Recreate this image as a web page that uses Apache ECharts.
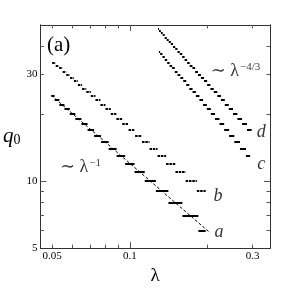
<!DOCTYPE html>
<html><head><meta charset="utf-8">
<script src="https://cdn.jsdelivr.net/npm/echarts@6/dist/echarts.min.js"></script>
<style>html,body{margin:0;padding:0;background:#fff}#c{width:291px;height:291px}</style>
</head><body><div id="c"></div>
<script>
// tick values and labels
const xMajorTicks = [0.1];
const xMinorTicks = [0.05, 0.06, 0.07, 0.08, 0.09, 0.2, 0.3];
const xLabels = [0.05, 0.1, 0.3];
const yMajorTicks = [10];
const yMinorTicks = [6, 7, 8, 9, 20, 30, 40];
const yLabels = [5, 10, 30];

// plateau series: first q0 value and lambda boundaries of each plateau (q0 decreases by 1 per plateau)
const aStartQ = 24;
const aBounds = [0.0496, 0.0511, 0.0533, 0.0558, 0.0585, 0.0615, 0.0649, 0.0686, 0.0727, 0.0774, 0.0828, 0.0889, 0.0960, 0.1043, 0.1143, 0.1263, 0.1412, 0.1600, 0.1846, 0.1970];
const bStartQ = 34;
const bBounds = [0.0500, 0.0516, 0.0532, 0.0549, 0.0567, 0.0586, 0.0607, 0.0629, 0.0653, 0.0678, 0.0706, 0.0736, 0.0769, 0.0805, 0.0844, 0.0887, 0.0935, 0.0989, 0.1049, 0.1116, 0.1193, 0.1282, 0.1384, 0.1504, 0.1648, 0.1821, 0.1970];
const cStartQ = 38;
const cBounds = [0.1298, 0.1312, 0.1339, 0.1367, 0.1397, 0.1428, 0.1460, 0.1495, 0.1532, 0.1571, 0.1612, 0.1656, 0.1702, 0.1752, 0.1805, 0.1863, 0.1925, 0.1991, 0.2063, 0.2142, 0.2229, 0.2324, 0.2429, 0.2545, 0.2676, 0.2823, 0.2930];
const dStartQ = 48;
const dBounds = [0.1287, 0.1298, 0.1320, 0.1342, 0.1366, 0.1391, 0.1416, 0.1443, 0.1471, 0.1501, 0.1531, 0.1563, 0.1597, 0.1632, 0.1669, 0.1708, 0.1750, 0.1793, 0.1839, 0.1888, 0.1940, 0.1996, 0.2055, 0.2118, 0.2186, 0.2258, 0.2337, 0.2422, 0.2515, 0.2616, 0.2727, 0.2849, 0.2970];

// guide line ~ lambda^-1
const guideX = [0.0496, 0.205];
const guideY = [24.2, 5.85];

// annotation positions (data coords)
const curveNames = ['a', 'b', 'c', 'd'];
const curveLabelX = [0.222, 0.220, 0.324, 0.324];
const curveLabelY = [5.87, 8.53, 11.9, 16.45];
const lawText = ['{m|∼ λ}{s|−1}', '{m|∼ λ}{s|−4/3}'];
const lawX = [0.0644, 0.257];
const lawY = [11.55, 31.1];

const SERIF = "'Liberation Serif', 'DejaVu Serif', serif";
const X_MIN = 0.045, X_MAX = 0.35, Y_MIN = 5, Y_MAX = 50;

function plateaus(q, bounds) {
  const out = [];
  for (let i = 0; i < bounds.length - 1; i++) {
    out.push({ coords: [[bounds[i], q - i], [bounds[i + 1], q - i]] });
  }
  return out;
}

function xAx(pos, ticks, len, labels, extra) {
  return Object.assign({
    type: 'log', logBase: 10, min: X_MIN, max: X_MAX, position: pos,
    axisLine: { show: true, onZero: false, lineStyle: { color: '#333', width: 1 } },
    axisTick: { show: true, inside: true, length: len, customValues: ticks, lineStyle: { color: '#555' } },
    axisLabel: labels ? { show: true, customValues: labels, fontFamily: SERIF, fontSize: 11, color: '#000', margin: 3,
      formatter: v => String(+(+v).toPrecision(3)) } : { show: false },
    splitLine: { show: false }, minorTick: { show: false }
  }, extra || {});
}
function yAx(pos, ticks, len, labels, extra) {
  return Object.assign({
    type: 'log', logBase: 10, min: Y_MIN, max: Y_MAX, position: pos,
    axisLine: { show: true, onZero: false, lineStyle: { color: '#333', width: 1 } },
    axisTick: { show: true, inside: true, length: len, customValues: ticks, lineStyle: { color: '#555' } },
    axisLabel: labels ? { show: true, customValues: labels, fontFamily: SERIF, fontSize: 11, color: '#000', margin: 3,
      formatter: v => String(Math.round(+v)) } : { show: false },
    splitLine: { show: false }, minorTick: { show: false }
  }, extra || {});
}

const chart = echarts.init(document.getElementById('c'), null, { renderer: 'canvas' });
chart.setOption({
  animation: false,
  backgroundColor: '#fff',
  title: { text: '(a)', left: 42, top: 30, textStyle: { fontFamily: SERIF, fontSize: 21, fontWeight: 'normal', color: '#000' } },
  grid: { left: 27, top: 25, right: 21, bottom: 38, containLabel: false },
  xAxis: [
    xAx('bottom', xMajorTicks, 6, xLabels, { name: 'λ', nameLocation: 'middle', nameGap: 9,
      nameTextStyle: { fontFamily: SERIF, fontSize: 19, color: '#000', verticalAlign: 'top' } }),
    xAx('bottom', xMinorTicks, 3.5, null),
    xAx('top', xMajorTicks, 6, null),
    xAx('top', xMinorTicks, 3.5, null)
  ],
  yAxis: [
    yAx('left', yMajorTicks, 6, yLabels, { name: '{q|q}{s|0}', nameLocation: 'middle', nameGap: 19, nameRotate: 0,
      nameTextStyle: { rich: { q: { fontFamily: SERIF, fontStyle: 'italic', fontSize: 21, color: '#000' },
        s: { fontFamily: SERIF, fontSize: 14, color: '#000', verticalAlign: 'bottom', padding: [6, 0, 0, 0] } } } }),
    yAx('left', yMinorTicks, 3.5, null),
    yAx('right', yMajorTicks, 6, null),
    yAx('right', yMinorTicks, 3.5, null)
  ],
  series: [
    { type: 'lines', coordinateSystem: 'cartesian2d', polyline: false, silent: true,
      lineStyle: { color: '#000', width: 2.2, opacity: 1 }, data: plateaus(aStartQ, aBounds) },
    { type: 'lines', coordinateSystem: 'cartesian2d', polyline: false, silent: true,
      lineStyle: { color: '#000', width: 2, opacity: 1, type: [2.5, 0.8] }, data: plateaus(bStartQ, bBounds) },
    { type: 'lines', coordinateSystem: 'cartesian2d', polyline: false, silent: true,
      lineStyle: { color: '#000', width: 2.2, opacity: 1 }, data: plateaus(cStartQ, cBounds) },
    { type: 'lines', coordinateSystem: 'cartesian2d', polyline: false, silent: true,
      lineStyle: { color: '#000', width: 2, opacity: 1 }, data: plateaus(dStartQ, dBounds) },
    { type: 'line', silent: true, symbol: 'none', data: guideX.map((x, i) => [x, guideY[i]]),
      lineStyle: { color: '#000', width: 1, type: [3, 2] } },
    { type: 'scatter', silent: true, symbolSize: 0,
      data: curveNames.map((n, i) => ({ value: [curveLabelX[i], curveLabelY[i]], name: n })),
      label: { show: true, position: 'inside', formatter: p => p.name, fontFamily: SERIF, fontStyle: 'italic', fontSize: 18, color: '#000' } },
    { type: 'scatter', silent: true, symbolSize: 0,
      data: lawText.map((t, i) => ({ value: [lawX[i], lawY[i]], name: t })),
      label: { show: true, position: 'inside', formatter: p => p.name,
        rich: { m: { fontFamily: SERIF, fontSize: 18, color: '#000' },
          s: { fontFamily: SERIF, fontSize: 11, color: '#000', verticalAlign: 'top', padding: [0, 0, 8, 1] } } } }
  ]
});
</script></body></html>
